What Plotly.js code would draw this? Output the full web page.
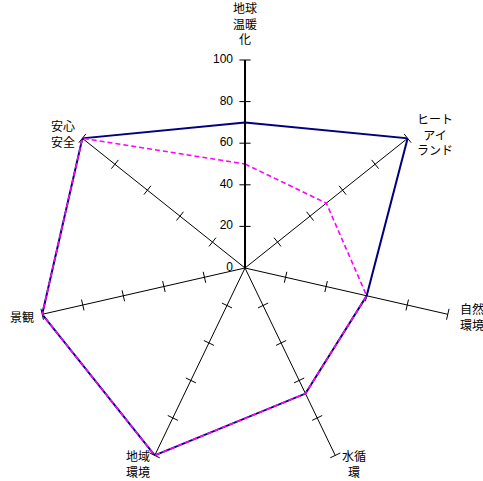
<!DOCTYPE html>
<html><head><meta charset="utf-8">
<script src="https://cdn.plot.ly/plotly-3.0.1.min.js"></script>
<style>html,body{margin:0;padding:0;background:#fff}#c{width:483px;height:481px}</style>
</head><body><div id="c"></div>
<script>
const categories = ['地球<br>温暖<br>化','ヒート<br>アイ<br>ランド','自然<br>環境','水循<br>環','地域<br>環境','景観','安心<br>安全'];
const seriesA = [70, 100, 60, 67, 100, 100, 100];
const seriesB = [50, 50, 60, 67, 100, 100, 100];
const radialTicks = [0, 20, 40, 60, 80, 100];

const W = 483, H = 481, CX = 245, CY = 268, R = 208;
const N = categories.length;
const close = a => a.concat([a[0]]);
const tr = [], tt = [], ta = [];
categories.forEach((c, i) => {
  radialTicks.slice(1).forEach(v => { tr.push(v); tt.push(c); ta.push(i * 360 / N); });
});

// label placement (pixel offsets from each spoke end)
const labelStyle = [
  {dx:0,  dy:-11, xa:'center', ya:'bottom', al:'center'},
  {dx:7,  dy:-4,  xa:'left',   ya:'middle', al:'center'},
  {dx:10, dy:2,   xa:'left',   ya:'middle', al:'left'},
  {dx:5,  dy:-10, xa:'left',   ya:'top',    al:'center'},
  {dx:-3, dy:-10, xa:'right',  ya:'top',    al:'left'},
  {dx:-6, dy:2,   xa:'right',  ya:'middle', al:'left'},
  {dx:-5, dy:-5,  xa:'right',  ya:'middle', al:'left'}
];
const annotations = categories.map((c, i) => {
  const a = (90 - i * 360 / N) * Math.PI / 180;
  const px = CX + R * Math.cos(a) + labelStyle[i].dx;
  const py = CY - R * Math.sin(a) + labelStyle[i].dy;
  return {text: c, xref:'paper', yref:'paper', x: px / W, y: 1 - py / H,
    xanchor: labelStyle[i].xa, yanchor: labelStyle[i].ya, align: labelStyle[i].al,
    showarrow:false, font:{family:'"Noto Sans CJK JP", sans-serif', size:12, color:'#000'}};
});

const data = [
  {type:'scatterpolar', r: tr, theta: tt, mode:'markers', hoverinfo:'skip', showlegend:false,
   marker:{symbol:'line-ew', size:8, angle: ta, color:'#000', line:{color:'#000', width:1}}},
  {type:'scatterpolar', r: radialTicks, theta: radialTicks.map(() => categories[0]), mode:'text',
   text: radialTicks.map(v => String(v) + '\u2002\u2002'), textposition:'middle left', hoverinfo:'skip', showlegend:false,
   cliponaxis:false,
   textfont:{family:'"Liberation Sans", Arial, sans-serif', size:12, color:'#000'}},
  {type:'scatterpolar', r: close(seriesA), theta: close(categories), mode:'lines', hoverinfo:'skip', showlegend:false,
   line:{color:'#000080', width:2}},
  {type:'scatterpolar', r: close(seriesB), theta: close(categories), mode:'lines', hoverinfo:'skip', showlegend:false,
   line:{color:'#FF00FF', width:1.6, dash:'5px,3px'}}
];

const layout = {
  width:W, height:H, margin:{l:0,r:0,t:0,b:0}, paper_bgcolor:'#fff', showlegend:false,
  font:{family:'"Noto Sans CJK JP", "Liberation Sans", sans-serif', size:12, color:'#000'},
  annotations: annotations,
  polar:{
    domain:{x:[(CX - R)/W, (CX + R)/W], y:[1 - (CY + R)/H, 1 - (CY - R)/H]},
    bgcolor:'rgba(0,0,0,0)',
    radialaxis:{range:[0,100], tickvals: radialTicks, angle:90, showticklabels:false,
      showline:true, linecolor:'#000', linewidth:2, showgrid:false, ticks:''},
    angularaxis:{type:'category', categoryarray: categories, rotation:90, direction:'clockwise',
      showline:false, showgrid:true, gridcolor:'#000', gridwidth:1, ticks:'', showticklabels:false}
  }
};
Plotly.newPlot('c', data, layout, {staticPlot:true});
</script></body></html>
